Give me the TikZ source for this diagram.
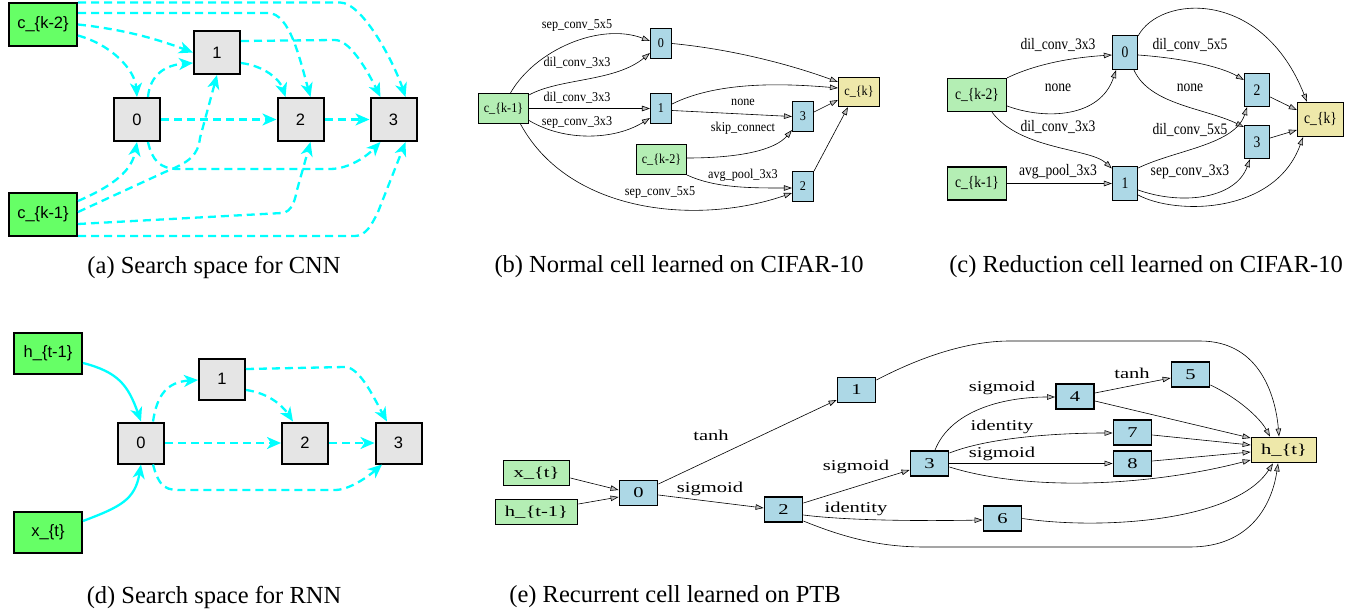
\documentclass[tikz,border=0pt]{standalone}
\usepackage{fontspec}
\usepackage{graphicx}
\setmainfont{Liberation Serif}
\newfontfamily\helv{Liberation Sans}
\usetikzlibrary{arrows.meta,calc}
\definecolor{agreen}{HTML}{66FF66}
\definecolor{agray}{HTML}{E5E5E5}
\definecolor{acyan}{HTML}{00FFFF}
\definecolor{ggreen}{HTML}{B4EEB4}
\definecolor{gblue}{HTML}{ADD8E6}
\definecolor{gyellow}{HTML}{EEE8AA}
\newcommand{\txtb}[1]{\scalebox{0.9}[1]{#1}}
\newcommand{\txtc}[1]{\scalebox{0.85}[1]{#1}}
\newcommand{\txte}[1]{\scalebox{1.37}[1]{#1}}
\begin{document}
\begin{tikzpicture}[x=1pt,y=-1pt,
  abox/.style={draw=black,line width=2pt,fill=agray,inner sep=0pt,minimum width=46pt,minimum height=43pt,font=\helv\fontsize{16.5}{19}\selectfont},
  ain/.style={abox,fill=agreen,minimum width=68pt},
  adash/.style={draw=acyan,line width=2.3pt,dash pattern=on 8pt off 5pt,-{Stealth[length=14pt,width=12pt,inset=4pt]}},
  asolid/.style={draw=acyan,line width=2.3pt,-{Stealth[length=14pt,width=12pt,inset=4pt]}},
  gb/.style={draw=black,line width=1.1pt,fill=gblue,inner sep=0pt},
  gin/.style={gb,fill=ggreen},
  gout/.style={gb,fill=gyellow},
  ge/.style={draw=black,line width=0.6pt,-{Triangle[length=8pt,width=5.5pt,fill=lightgray,line width=0.6pt]}},
  fb/.style={font=\fontsize{13.5}{15}\selectfont},
  fc/.style={font=\fontsize{16}{18}\selectfont},
  fe/.style={font=\fontsize{15}{17}\selectfont},
  lbl/.style={inner sep=0pt},
  captext/.style={inner sep=0pt,font=\fontsize{24.5}{27}\selectfont}
]
\useasboundingbox (0,0) rectangle (1363,615);
\fill[white] (0,0) rectangle (1363,615);

% ---------------- (a) ----------------
\node[ain] (k2) at (43,24.5) {c\_\{k-2\}};
\node[ain] (k1) at (43,214.5) {c\_\{k-1\}};
\node[abox] (n1) at (217,52.5) {1};
\node[abox] (n0) at (137,119.5) {0};
\node[abox] (n2) at (300.5,119.5) {2};
\node[abox] (n3) at (393.5,119.5) {3};
\draw[adash] ($(k2.east)+(0,11)$) .. controls (112,45) and (135,70) .. (n0.north);
\draw[adash] (k2.east) .. controls (130,30) and (165,42) .. (n1.west);
\draw[adash] ($(k2.east)+(0,-11.5)$) -- (268,13) .. controls (290,13) and (300,60) .. ($(n2.north)+(10,0)$);
\draw[adash] ($(k2.east)+(0,-22)$) -- (340,2.5) .. controls (362,2.5) and (393,60) .. ($(n3.north)+(12,0)$);
\draw[adash] ($(n1.east)+(0,10.5)$) .. controls (265,66) and (280,80) .. ($(n2.north)+(-15,0)$);
\draw[adash] ($(n1.east)+(0,-11.5)$) -- (335,40) .. controls (352,40) and (372,80) .. ($(n3.north)+(-13,0)$);
\draw[adash] ($(n0.north)+(11,0)$) .. controls (150,75) and (165,65) .. ($(n1.west)+(0,10.5)$);
\draw[adash] (n0.east) -- (n2.west);
\draw[adash] (n2.east) -- (n3.west);
\draw[adash] ($(n0.south)+(11,0)$) .. controls (152,160) and (160,169) .. (178,169) -- (330,169) .. controls (350,169) and (368,155) .. ($(n3.south)+(-13,0)$);
\draw[adash] ($(k1.east)+(0,-13.5)$) .. controls (115,185) and (132,170) .. (n0.south);
\draw[adash] ($(k1.east)+(0,-2.5)$) -- (165,172) .. controls (190,162) and (198,155) .. (200,138) -- (n1.south);
\draw[adash] ($(k1.east)+(0,9.5)$) -- (282,213) .. controls (292,212) and (295,200) .. (297,190) -- ($(n2.south)+(10,0)$);
\draw[adash] ($(k1.east)+(0,21.5)$) -- (355,236) .. controls (366,236) and (372,224) .. (378,212) -- ($(n3.south)+(12,0)$);
\node[captext] (capa) at (214,267) {(a) Search space for CNN};

% ---------------- (b) ----------------
\node[gin,fb,minimum width=50pt,minimum height=30pt] (bk1) at (503.5,108.5) {\txtb{c\_\{k-1\}}};
\node[gb,fb,minimum width=21pt,minimum height=30pt] (b0) at (661,43.5) {\txtb{0}};
\node[gb,fb,minimum width=21pt,minimum height=30pt] (b1) at (661,108.5) {\txtb{1}};
\node[gout,fb,minimum width=41pt,minimum height=29pt] (bk) at (859,92) {\txtb{c\_\{k\}}};
\node[gb,fb,minimum width=21pt,minimum height=30pt] (b3) at (803,116.5) {\txtb{3}};
\node[gin,fb,minimum width=50pt,minimum height=30pt] (bk2) at (661.5,159.5) {\txtb{c\_\{k-2\}}};
\node[gb,fb,minimum width=21pt,minimum height=30pt] (b2) at (803,186.5) {\txtb{2}};
\draw[ge] ($(bk1.north)+(7,0)$) .. controls (535,50) and (600,22) .. ($(b0.west)+(0,-2.5)$);
\draw[ge] ($(bk1.north east)+(0,2)$) .. controls (560,78) and (615,82) .. ($(b0.west)+(0,9.5)$);
\draw[ge] (bk1.east) -- (b1.west);
\draw[ge] ($(bk1.east)+(0,12)$) .. controls (565,142) and (615,140) .. ($(b1.west)+(0,9.5)$);
\draw[ge] ($(bk1.south)+(17,0)$) .. controls (570,215) and (700,225) .. ($(b2.west)+(0,6.5)$);
\draw[ge] (b0.east) .. controls (740,50) and (800,68) .. ($(bk.west)+(0,-10)$);
\draw[ge] ($(b1.east)+(0,-4.5)$) .. controls (720,80) and (790,84) .. ($(bk.west)+(0,-4)$);
\draw[ge] ($(b1.east)+(0,2)$) -- (b3.west);
\draw[ge] ($(bk2.east)+(0,-1.5)$) .. controls (740,158) and (775,150) .. ($(b3.south west)+(0,-2)$);
\draw[ge] (bk2.south east) .. controls (715,188) and (750,188) .. ($(b2.west)+(0,1.5)$);
\draw[ge] ($(b3.east)+(0,-4.5)$) -- ($(bk.west)+(0,8)$);
\draw[ge] (b2.north east) -- ($(bk.south)+(-11,0)$);
\node[lbl,fb] (lb1) at (577,26) {\txtb{sep\_conv\_5x5}};
\node[lbl,fb] (lb2) at (577,63) {\txtb{dil\_conv\_3x3}};
\node[lbl,fb] (lb3) at (577,98) {\txtb{dil\_conv\_3x3}};
\node[lbl,fb] (lb4) at (577,122) {\txtb{sep\_conv\_3x3}};
\node[lbl,fb] (lb5) at (660,193) {\txtb{sep\_conv\_5x5}};
\node[lbl,fb] (lb6) at (743,102) {\txtb{none}};
\node[lbl,fb] (lb7) at (743,128) {\txtb{skip\_connect}};
\node[lbl,fb] (lb8) at (743,175) {\txtb{avg\_pool\_3x3}};
\node[captext] (capb) at (679,267) {(b) Normal cell learned on CIFAR-10};

% ---------------- (c) ----------------
\node[gin,fc,line width=1.3pt,minimum width=59pt,minimum height=33pt] (ck2) at (977,95) {\txtc{c\_\{k-2\}}};
\node[gin,fc,line width=1.3pt,minimum width=59pt,minimum height=33pt] (ck1) at (977,183.5) {\txtc{c\_\{k-1\}}};
\node[gb,fc,line width=1.3pt,minimum width=25pt,minimum height=34pt] (c0) at (1125,52.5) {\txtc{0}};
\node[gb,fc,line width=1.3pt,minimum width=25pt,minimum height=34pt] (c1) at (1125,183.5) {\txtc{1}};
\node[gb,fc,line width=1.3pt,minimum width=25pt,minimum height=33pt] (c2) at (1257,90) {\txtc{2}};
\node[gb,fc,line width=1.3pt,minimum width=25pt,minimum height=33pt] (c3) at (1257,142) {\txtc{3}};
\node[gout,fc,line width=1.3pt,minimum width=46pt,minimum height=34pt] (ck) at (1320.5,119.5) {\txtc{c\_\{k\}}};
\draw[ge] (ck2.north east) .. controls (1040,62) and (1080,57) .. ($(c0.west)+(0,2.5)$);
\draw[ge] ($(ck2.east)+(0,11)$) .. controls (1045,120) and (1100,118) .. ($(c0.south)+(-9,0)$);
\draw[ge] ($(ck2.south)+(15,0)$) .. controls (1020,150) and (1090,148) .. ($(c1.west)+(0,-15)$);
\draw[ge] (ck1.east) -- (c1.west);
\draw[ge] ($(c0.north east)+(0,1)$) .. controls (1160,-5) and (1262,-12) .. ($(ck.north)+(-13.5,0)$);
\draw[ge] ($(c0.east)+(0,2.5)$) .. controls (1180,58) and (1220,66) .. ($(c2.west)+(0,-10)$);
\draw[ge] ($(c0.south)+(9,0)$) .. controls (1150,105) and (1205,108) .. ($(c3.west)+(0,-15)$);
\draw[ge] ($(c1.east)+(0,-15.5)$) .. controls (1175,150) and (1235,145) .. ($(c2.south)+(-10,0)$);
\draw[ge] ($(c1.east)+(0,6.5)$) .. controls (1180,205) and (1235,200) .. ($(c3.south)+(-7,0)$);
\draw[ge] ($(c1.east)+(0,11.5)$) .. controls (1175,215) and (1275,215) .. ($(ck.south)+(-17.5,0)$);
\draw[ge] ($(c2.east)+(0,7)$) -- ($(ck.west)+(0,-9.5)$);
\draw[ge] ($(c3.east)+(0,-4)$) -- ($(ck.west)+(0,10.5)$);
\node[lbl,fc] (lc1) at (1058,45) {\txtc{dil\_conv\_3x3}};
\node[lbl,fc] (lc2) at (1058,88) {\txtc{none}};
\node[lbl,fc] (lc3) at (1058,127) {\txtc{dil\_conv\_3x3}};
\node[lbl,fc] (lc4) at (1058,172) {\txtc{avg\_pool\_3x3}};
\node[lbl,fc] (lc5) at (1190,45) {\txtc{dil\_conv\_5x5}};
\node[lbl,fc] (lc6) at (1190,88) {\txtc{none}};
\node[lbl,fc] (lc7) at (1190,130) {\txtc{dil\_conv\_5x5}};
\node[lbl,fc] (lc8) at (1190,172) {\txtc{sep\_conv\_3x3}};
\node[captext] (capc) at (1146,267) {(c) Reduction cell learned on CIFAR-10};

% ---------------- (d) ----------------
\node[ain,minimum height=41pt] (ht1) at (48,353) {h\_\{t-1\}};
\node[ain,minimum height=41pt] (xt) at (48,532) {x\_\{t\}};
\node[abox,minimum height=41pt] (d0) at (141,443) {0};
\node[abox,minimum height=41pt] (d1) at (222,379) {1};
\node[abox,minimum height=41pt] (d2) at (305,443) {2};
\node[abox,minimum height=41pt] (d3) at (398.5,443) {3};
\draw[asolid] ($(ht1.east)+(0,10)$) .. controls (118,372) and (128,385) .. (d0.north);
\draw[asolid] ($(xt.east)+(0,-11)$) .. controls (120,507) and (135,500) .. (d0.south);
\draw[adash] ($(d0.north)+(12,0)$) .. controls (157,395) and (167,382) .. ($(d1.west)+(0,1)$);
\draw[adash] (d0.east) -- (d2.west);
\draw[adash] (d2.east) -- (d3.west);
\draw[adash] ($(d1.east)+(0,11)$) .. controls (268,393) and (282,405) .. ($(d2.north)+(-12,0)$);
\draw[adash] ($(d1.east)+(0,-10)$) -- (345,367) .. controls (360,367) and (375,400) .. ($(d3.north)+(-11.5,0)$);
\draw[adash] ($(d0.south)+(12,0)$) .. controls (158,483) and (163,490) .. (178,490) -- (335,490) .. controls (350,490) and (370,475) .. ($(d3.south)+(-16.5,0)$);
\node[captext] (capd) at (214,597) {(d) Search space for RNN};

% ---------------- (e) ----------------
\tikzset{eb/.style={gb,fe,line width=1.8pt,minimum width=38pt,minimum height=25pt}}
\node[eb,fill=ggreen,minimum width=66pt] (ex) at (536.5,473) {\txte{x\_\{t\}}};
\node[eb,fill=ggreen,minimum width=82pt] (eh1) at (536.5,512) {\txte{h\_\{t-1\}}};
\node[eb] (e0) at (638.5,493) {\txte{0}};
\node[eb] (e1) at (856.5,390) {\txte{1}};
\node[eb] (e2) at (783.5,509.5) {\txte{2}};
\node[eb] (e3) at (929.5,463.5) {\txte{3}};
\node[eb] (e4) at (1075,396.5) {\txte{4}};
\node[eb] (e5) at (1190.5,374.5) {\txte{5}};
\node[eb] (e7) at (1132.5,432.5) {\txte{7}};
\node[eb] (e8) at (1132.5,463.5) {\txte{8}};
\node[eb] (e6) at (1002.5,518.5) {\txte{6}};
\node[eb,fill=gyellow,minimum width=65pt] (eht) at (1284,450) {\txte{h\_\{t\}}};
\draw[ge] ($(ex.east)+(0,5)$) -- ($(e0.west)+(0,-3)$);
\draw[ge] ($(eh1.east)+(0,-8)$) -- ($(e0.west)+(0,4)$);
\draw[ge] ($(e0.east)+(0,-9)$) -- ($(e1.west)+(0,10)$);
\draw[ge] ($(e0.east)+(0,2)$) -- ($(e2.west)+(0,-1.5)$);
\draw[ge] ($(e2.east)+(0,-6.5)$) -- ($(e3.west)+(0,6.5)$);
\draw[ge] ($(e2.east)+(0,5.5)$) .. controls (850,521) and (930,521) .. ($(e6.west)+(0,1.5)$);
\draw[ge] ($(e2.east)+(0,11.5)$) .. controls (850,540) and (885,547) .. (925,547) -- (1190,547) .. controls (1250,547) and (1272,505) .. ($(eht.south)+(-6,0)$);
\draw[ge] ($(e1.east)+(0,-10)$) .. controls (930,352) and (975,341) .. (1010,341) -- (1200,341) .. controls (1262,341) and (1276,400) .. ($(eht.north)+(-5,0)$);
\draw[ge] ($(e3.north)+(5.5,0)$) .. controls (950,412) and (1000,397) .. ($(e4.west)+(0,0.5)$);
\draw[ge] ($(e3.east)+(0,-10.5)$) .. controls (990,437) and (1060,433) .. ($(e7.west)+(0,0.5)$);
\draw[ge] (e3.east) -- (e8.west);
\draw[ge] ($(e3.east)+(0,3.5)$) .. controls (1030,492) and (1150,486) .. ($(eht.west)+(0,10)$);
\draw[ge] ($(e4.east)+(0,-3.5)$) -- ($(e5.west)+(0,3.5)$);
\draw[ge] ($(e4.east)+(0,4.5)$) -- ($(eht.west)+(0,-12)$);
\draw[ge] ($(e5.east)+(0,10.5)$) .. controls (1238,398) and (1260,418) .. ($(eht.north)+(-14,0)$);
\draw[ge] ($(e7.east)+(0,2.5)$) -- ($(eht.west)+(0,-5)$);
\draw[ge] ($(e8.east)+(0,-2.5)$) -- ($(eht.west)+(0,2)$);
\draw[ge] (e6.east) .. controls (1100,530) and (1235,522) .. ($(eht.south)+(-11,0)$);
\node[lbl,fe] (le1) at (711,435) {\txte{tanh}};
\node[lbl,fe] (le2) at (710,489) {\txte{sigmoid}};
\node[lbl,fe] (le3) at (856,467) {\txte{sigmoid}};
\node[lbl,fe] (le4) at (856,509) {\txte{identity}};
\node[lbl,fe] (le5) at (1002,388) {\txte{sigmoid}};
\node[lbl,fe] (le6) at (1002,427) {\txte{identity}};
\node[lbl,fe] (le7) at (1002,454) {\txte{sigmoid}};
\node[lbl,fe] (le8) at (1132,373) {\txte{tanh}};
\node[captext] (cape) at (675,597) {(e) Recurrent cell learned on PTB};
\end{tikzpicture}
\end{document}
